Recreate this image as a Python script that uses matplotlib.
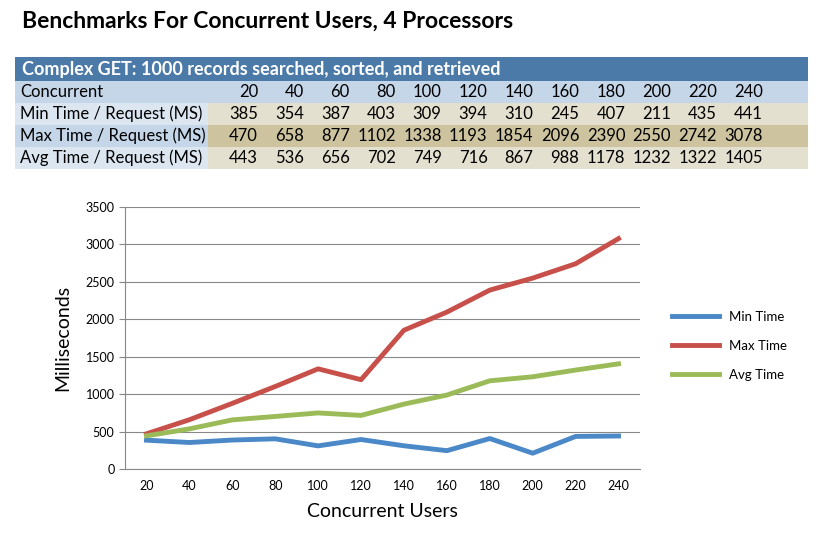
import matplotlib
matplotlib.use("Agg")
import matplotlib.pyplot as plt
from matplotlib.patches import Rectangle

plt.rcParams['font.family'] = ['Lato', 'DejaVu Sans']

users = [20, 40, 60, 80, 100, 120, 140, 160, 180, 200, 220, 240]
min_time = [385, 354, 387, 403, 309, 394, 310, 245, 407, 211, 435, 441]
max_time = [470, 658, 877, 1102, 1338, 1193, 1854, 2096, 2390, 2550, 2742, 3078]
avg_time = [443, 536, 656, 702, 749, 716, 867, 988, 1178, 1232, 1322, 1405]
row_labels = ["Concurrent", "Min Time / Request (MS)", "Max Time / Request (MS)", "Avg Time / Request (MS)"]

W, H = 822, 539
fig = plt.figure(figsize=(W / 100, H / 100), dpi=100)

def px(x, y):
    return x / W, 1 - y / H

fig.text(*px(22, 21), "Benchmarks For Concurrent Users, 4 Processors", fontsize=16.5, fontweight="bold", va="center")

# table
def rect(x0, y0, x1, y1, color):
    fx, fy = px(x0, y1)
    fig.patches.append(Rectangle((fx, fy), (x1 - x0) / W, (y1 - y0) / H, transform=fig.transFigure,
                                 facecolor=color, edgecolor="none"))

rect(15, 57, 808, 81, "#4b7aa8")
fig.text(*px(22, 70), "Complex GET: 1000 records searched, sorted, and retrieved", fontsize=13, fontweight="bold",
         color="white", va="center")
rows = [users, min_time, max_time, avg_time]
label_col = ["#c5d6e9", "#dce6f1", "#c5d6e9", "#dce6f1"]
data_col = ["#c5d6e9", "#e4e0cf", "#cdc49f", "#e4e0cf"]
for i, (lab, vals) in enumerate(zip(row_labels, rows)):
    y0 = 81 + i * 22
    rect(15, y0, 208, y0 + 22, label_col[i])
    rect(208, y0, 808, y0 + 22, data_col[i])
    fig.text(*px(20, y0 + 11), lab, fontsize=12, va="center")
    for j, v in enumerate(vals):
        fig.text(*px(258 + j * 45.9, y0 + 11), str(v), fontsize=12, va="center", ha="right")

# chart
l, b = px(125, 469)
ax = fig.add_axes([l, b, (640 - 125) / W, (469 - 207) / H])
ax.plot(users, min_time, color="#4a88c7", lw=3.5, label="Min Time")
ax.plot(users, max_time, color="#c8504b", lw=3.5, label="Max Time")
ax.plot(users, avg_time, color="#9bbb59", lw=3.5, label="Avg Time")
ax.set_xlim(10, 250)
ax.set_xticks(users)
ax.set_ylim(0, 3500)
ax.set_yticks(range(0, 3501, 500))
ax.yaxis.grid(True, color="#888888", lw=0.8)
ax.set_axisbelow(True)
for s in ["top", "right"]:
    ax.spines[s].set_visible(False)
ax.spines["left"].set_color("#888888")
ax.spines["bottom"].set_color("#888888")
ax.tick_params(labelsize=9, color="#888888", length=4)
ax.tick_params(axis="x", length=0, pad=8)
ax.set_xlabel("Concurrent Users", fontsize=14, labelpad=8)
ax.set_ylabel("Milliseconds", fontsize=14, labelpad=10)
ax.legend(loc="center left", bbox_to_anchor=(1.04, 0.47), frameon=False, fontsize=9.5, handlelength=3.5,
          labelspacing=1.3)

fig.savefig("out.png", dpi=100)
